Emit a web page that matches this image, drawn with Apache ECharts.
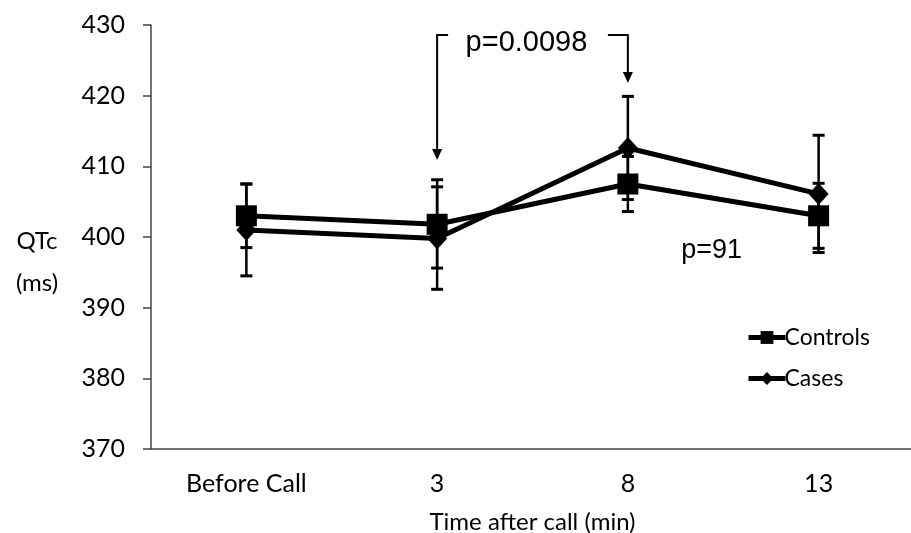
<!DOCTYPE html>
<html><head><meta charset="utf-8">
<script src="https://cdn.jsdelivr.net/npm/echarts@6/dist/echarts.min.js"></script>
<style>html,body{margin:0;padding:0;background:#fff}#c{width:911px;height:533px}</style>
</head><body><div id="c"></div>
<script>
const categories = ['Before Call', '3', '8', '13'];
const controls = [403.0, 401.8, 407.5, 403.0];
const cases = [401.0, 399.8, 412.6, 406.1];
const controlsLow = [398.5, 395.6, 403.6, 398.4];
const controlsHigh = [407.5, 408.1, 411.4, 407.6];
const casesLow = [394.5, 392.6, 405.3, 397.8];
const casesHigh = [407.5, 407.1, 419.9, 414.4];
const yTicks = [370, 380, 390, 400, 410, 420, 430];
const pMain = 'p=0.0098';
const pSecond = 'p=91';
// annotation anchors (data space)
const bracketTop = 428.6, leftTip = 410.9, rightTip = 421.8;
const pSecondY = 398.1;

const F = 'Lato, "Open Sans", sans-serif';
const chart = echarts.init(document.getElementById('c'));

function errData(low, high) { return low.map((l, i) => [i, l, high[i]]); }
function renderErr(params, api) {
  const x = api.value(0);
  const lo = api.coord([x, api.value(1)]);
  const hi = api.coord([x, api.value(2)]);
  const w = 6;
  const st = { stroke: '#000', lineWidth: 2.5 };
  return { type: 'group', children: [
    { type: 'line', shape: { x1: lo[0], y1: lo[1], x2: hi[0], y2: hi[1] }, style: st },
    { type: 'line', shape: { x1: lo[0] - w, y1: lo[1], x2: lo[0] + w, y2: lo[1] }, style: { stroke: '#000', lineWidth: 3 } },
    { type: 'line', shape: { x1: hi[0] - w, y1: hi[1], x2: hi[0] + w, y2: hi[1] }, style: { stroke: '#000', lineWidth: 3 } }
  ]};
}

chart.setOption({
  animation: false,
  grid: { left: 151, right: -3, top: 25, bottom: 84, outerBoundsMode: 'none', containLabel: false },
  legend: {
    data: ['Controls', 'Cases'], orient: 'vertical', left: 741, top: 321,
    itemWidth: 37, itemHeight: 16, itemGap: 18,
    lineStyle: { width: 5 },
    textStyle: { fontFamily: F, fontSize: 23, color: '#000', padding: [0, 0, 0, -6] }
  },
  xAxis: {
    type: 'category', data: categories, boundaryGap: true,
    axisLine: { lineStyle: { color: '#444', width: 1.5 } },
    axisTick: { show: false },
    axisLabel: { color: '#000', fontFamily: F, fontSize: 25, margin: 22 },
    name: 'Time after call (min)', nameLocation: 'middle', nameGap: 61,
    nameTextStyle: { color: '#000', fontFamily: F, fontSize: 24 }
  },
  yAxis: {
    type: 'value', min: yTicks[0], max: yTicks[yTicks.length - 1], interval: 10,
    axisLine: { show: true, lineStyle: { color: '#444', width: 1.5 } },
    axisTick: { show: true, length: 8, lineStyle: { color: '#444', width: 1.5 } },
    splitLine: { show: false },
    axisLabel: { color: '#000', fontFamily: F, fontSize: 25, margin: 26 }
  },
  series: [
    { type: 'custom', name: 'errControls', data: errData(controlsLow, controlsHigh), renderItem: renderErr, z: 1 },
    { type: 'custom', name: 'errCases', data: errData(casesLow, casesHigh), renderItem: renderErr, z: 1 },
    { type: 'line', name: 'Controls', data: controls, symbol: 'rect', symbolSize: 21,
      lineStyle: { color: '#000', width: 5 }, itemStyle: { color: '#000' }, z: 3 },
    { type: 'line', name: 'Cases', data: cases, symbol: 'diamond', symbolSize: [20, 22],
      lineStyle: { color: '#000', width: 5 }, itemStyle: { color: '#000' }, z: 3 }
  ]
});

function px(x, y) { return chart.convertToPixel({ gridIndex: 0 }, [x, y]); }
const a = px(1, bracketTop), aTip = px(1, leftTip);
const b = px(2, bracketTop), bTip = px(2, rightTip);
const c3 = px(3, pSecondY);
const p2x = b[0] + 0.28 * (c3[0] - b[0]);
const ls = { stroke: '#000', lineWidth: 2 };
function arrow(xc, ytip) {
  return { type: 'polygon', shape: { points: [[xc - 5, ytip - 11], [xc + 5, ytip - 11], [xc, ytip]] }, style: { fill: '#000' } };
}
chart.setOption({ graphic: [
  { type: 'polyline', shape: { points: [[a[0] + 11, a[1]], [a[0], a[1]], [a[0], aTip[1] - 10]] }, style: Object.assign({ fill: null }, ls) },
  arrow(a[0], aTip[1]),
  { type: 'polyline', shape: { points: [[b[0] - 20, b[1]], [b[0], b[1]], [b[0], bTip[1] - 10]] }, style: Object.assign({ fill: null }, ls) },
  arrow(b[0], bTip[1]),
  { type: 'text', x: (a[0] + b[0]) / 2 - 6, y: a[1] + 8, style: { text: pMain, font: '29px "Liberation Sans", Arial, sans-serif', fill: '#000', align: 'center', verticalAlign: 'middle' } },
  { type: 'text', x: p2x, y: c3[1], style: { text: pSecond, font: '27px "Liberation Sans", Arial, sans-serif', fill: '#000', align: 'left', verticalAlign: 'middle' } },
  { type: 'text', x: 37, y: 262, style: { text: 'QTc\n(ms)', font: '24px Lato, sans-serif', fill: '#000', align: 'center', verticalAlign: 'middle', lineHeight: 42 } }
]});
</script></body></html>
